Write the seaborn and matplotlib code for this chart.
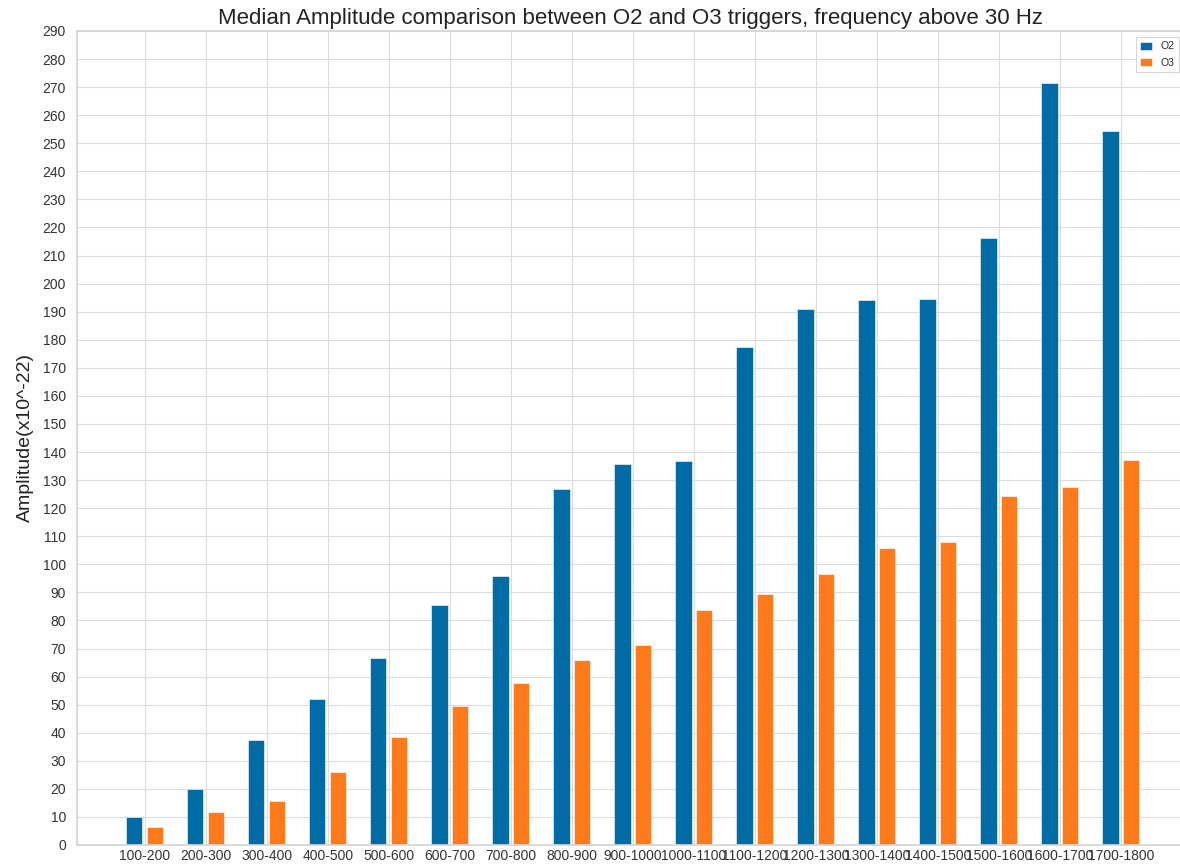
import matplotlib
matplotlib.use("Agg")
import matplotlib.pyplot as plt
import seaborn as sns
import pandas as pd

categories = ["100-200", "200-300", "300-400", "400-500", "500-600", "600-700",
              "700-800", "800-900", "900-1000", "1000-1100", "1100-1200",
              "1200-1300", "1300-1400", "1400-1500", "1500-1600", "1600-1700",
              "1700-1800"]
o2_values = [9.9, 20.0, 37.4, 52.0, 66.6, 85.4, 96.0, 127.0, 135.9, 136.8, 177.3,
             190.9, 194.0, 194.5, 216.4, 271.4, 254.5]
o3_values = [6.3, 11.6, 15.7, 25.9, 38.3, 49.4, 57.7, 65.9, 71.1, 83.6, 89.3,
             96.4, 105.8, 107.9, 124.3, 127.4, 137.3]
series_names = ["O2", "O3"]
yticks = list(range(0, 300, 10))

df = pd.DataFrame({
    "range": categories * 2,
    "amp": o2_values + o3_values,
    "run": [series_names[0]] * len(categories) + [series_names[1]] * len(categories),
})

sns.set_theme(style="whitegrid")
plt.rcParams["font.family"] = ["Liberation Sans", "DejaVu Sans"]
plt.rcParams["axes.edgecolor"] = "#d5d5d5"
plt.rcParams["grid.color"] = "#dcdcdc"
plt.rcParams["grid.linewidth"] = 0.8

fig = plt.figure(figsize=(11.8, 8.67), dpi=100)
ax = fig.add_axes([77 / 1180, 22 / 867, (1185 - 77) / 1180, (845 - 31) / 867])

sns.barplot(data=df, x="range", y="amp", hue="run",
            palette=["#006BA4", "#FF7A1A"], width=0.68, gap=0.22,
            edgecolor="white", linewidth=0.4, ax=ax, saturation=1)

ax.set_xlim(-1.11, 17.05)
ax.set_ylim(0, 290)
ax.set_yticks(yticks)
ax.tick_params(axis="y", labelsize=10, pad=8, colors="#333333", length=0)
ax.tick_params(axis="x", labelsize=10, pad=3, colors="#333333", length=0)
ax.set_xlabel("")
ax.set_ylabel("Amplitude(x10^-22)", fontsize=14, labelpad=6, color="#222222")
ax.set_title("Median Amplitude comparison between O2 and O3 triggers, frequency above 30 Hz",
             fontsize=16, pad=5, color="#222222")
ax.grid(True, axis="both")
ax.set_axisbelow(True)

leg = ax.legend(loc="upper right", fontsize=7.5, frameon=True, handlelength=1.2,
                handleheight=0.8, fancybox=False, borderaxespad=0.6, labelspacing=0.6)
leg.get_frame().set_edgecolor("#cccccc")
leg.get_frame().set_linewidth(0.8)
leg.set_title(None)

fig.savefig("out.png", dpi=100)
